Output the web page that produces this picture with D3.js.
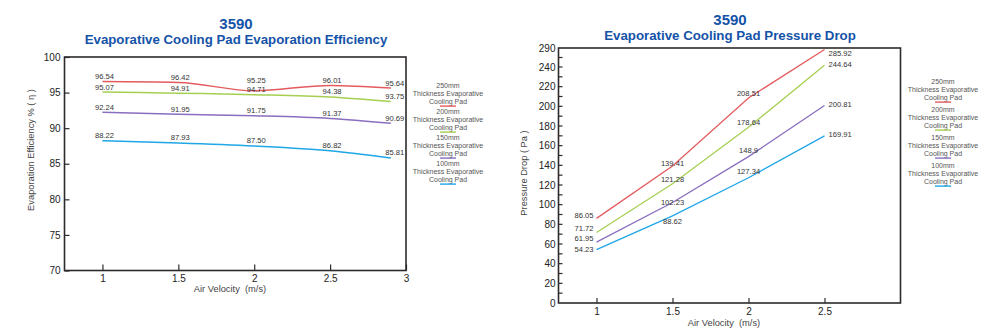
<!DOCTYPE html>
<html><head><meta charset="utf-8">
<script src="https://cdn.jsdelivr.net/npm/d3@7"></script>
<style>
html,body{margin:0;padding:0;background:#fff;}
svg{display:block;font-family:"Liberation Sans",Arial,sans-serif;}
</style></head>
<body><svg id="c" width="1000" height="336"></svg>
<script>
// ---------- data ----------
const seriesNames = ["250mm", "200mm", "150mm", "100mm"];
const legendSub = ["Thickness Evaporative", "Cooling Pad"];
const seriesColors = ["#e35b5e", "#a6cf52", "#8a6ebf", "#1fa7e8"];

// Evaporation efficiency chart
const effTitle = ["3590", "Evaporative Cooling Pad Evaporation Efficiency"];
const effX = [1, 1.5, 2, 2.5, 2.9];
const eff250 = [96.54, 96.42, 95.25, 96.01, 95.64];
const eff200 = [95.07, 94.91, 94.71, 94.38, 93.75];
const eff150 = [92.24, 91.95, 91.75, 91.37, 90.69];
const eff100 = [88.22, 87.93, 87.50, 86.82, 85.81];
const effXTicks = [1, 1.5, 2, 2.5, 3];
const effYTicks = [70, 75, 80, 85, 90, 95, 100];
const effYLabel = "Evaporation Efficiency  % ( η )";

// Pressure drop chart
const pdTitle = ["3590", "Evaporative Cooling Pad Pressure Drop"];
const pdX = [1, 1.5, 2, 2.5];
const pd250 = [86.05, 139.41, 208.51, 285.92];
const pd200 = [71.72, 121.28, 178.64, 244.64];
const pd150 = [61.95, 102.23, 148.9, 200.81];
const pd100 = [54.23, 88.62, 127.34, 169.91];
const pdXTicks = [1, 1.5, 2, 2.5];
const pdYTicks = [0, 20, 40, 60, 80, 100, 120, 140, 160, 180, 200, 220, 240, 290];
const pdYMinor = [10, 30, 50, 70, 90, 110, 130, 150, 170, 190, 210, 230, 265];
const pdYLabel = "Pressure Drop ( Pa )";
const xLabel = "Air Velocity\u00a0 (m/s)";

// ---------- layout ----------
const svg = d3.select("#c");
const titleColor = "#1553a8";
const frameColor = "#2e2a2a";
const titleFont = "'Liberation Sans',Arial,sans-serif";

function title(lines, cx, y0, y1, w2) {
  svg.append("text").attr("x", cx).attr("y", y0).attr("text-anchor", "middle")
    .attr("font-family", titleFont).attr("font-weight", "bold")
    .attr("font-size", 15).attr("fill", titleColor).text(lines[0]);
  const t2 = svg.append("text").attr("x", cx).attr("y", y1).attr("text-anchor", "middle")
    .attr("font-family", titleFont).attr("font-weight", "bold")
    .attr("font-size", 14).attr("fill", titleColor).text(lines[1]);
  const w = t2.node().getComputedTextLength();
  t2.attr("font-size", 14 * w2 / w);
}

function legend(cx, y0, step) {
  const lh = 7.9;
  seriesNames.forEach((n, i) => {
    const g = svg.append("g").attr("transform", `translate(${cx},${y0 + i * step})`);
    [n, ...legendSub].forEach((s, j) => {
      g.append("text").attr("x", 0).attr("y", j * lh).attr("text-anchor", "middle")
        .attr("font-size", 7).attr("fill", "#555").text(s);
    });
    g.append("line").attr("x1", -8).attr("x2", 8).attr("y1", 2 * lh + 2.3).attr("y2", 2 * lh + 2.3)
      .attr("stroke", seriesColors[i]).attr("stroke-width", 1.4);
  });
}

function styleAxisText(g) {
  g.selectAll("text").attr("font-size", 10).attr("fill", "#222")
    .attr("font-family", "'Liberation Sans',Arial,sans-serif");
}

// ===== Left chart =====
{
  const x = d3.scaleLinear().domain([0.75, 3]).range([64.5, 406]);
  const y = d3.scaleLinear().domain([70, 100]).range([270.5, 57]);
  const data = [eff250, eff200, eff150, eff100];

  title(effTitle, 236, 29, 43.5, 303);

  svg.append("rect").attr("x", x.range()[0]).attr("y", y(100))
    .attr("width", x.range()[1] - x.range()[0]).attr("height", y(70) - y(100))
    .attr("fill", "none").attr("stroke", frameColor).attr("stroke-width", 1.6);

  const ya = svg.append("g").attr("transform", `translate(${x.range()[0]},0)`)
    .call(d3.axisLeft(y).tickValues(effYTicks).tickSize(-5).tickPadding(4).tickFormat(d3.format("d")));
  ya.select(".domain").remove();
  ya.selectAll("line").attr("stroke", frameColor).attr("stroke-width", 1.2);
  styleAxisText(ya);

  const xa = svg.append("g").attr("transform", `translate(0,${y(70)})`)
    .call(d3.axisBottom(x).tickValues(effXTicks).tickSize(-6).tickPadding(4).tickFormat(d => String(d)));
  xa.select(".domain").remove();
  xa.selectAll("line").attr("stroke", frameColor).attr("stroke-width", 1.2);
  styleAxisText(xa);

  svg.append("text").attr("x", 230).attr("y", 292).attr("text-anchor", "middle")
    .attr("font-size", 9.3).attr("fill", "#444").text(xLabel);
  svg.append("text").attr("transform", "translate(34,150) rotate(-90)").attr("text-anchor", "middle")
    .attr("font-size", 9.3).attr("fill", "#444").text(effYLabel);

  const line = d3.line().x((d, i) => x(effX[i])).y(d => y(d)).curve(d3.curveMonotoneX);
  data.forEach((s, k) => {
    svg.append("path").attr("d", line(s)).attr("fill", "none")
      .attr("stroke", seriesColors[k]).attr("stroke-width", 1.5);
  });

  // value labels: above each point, stacked so they never collide
  effX.forEach((xv, i) => {
    let below = Infinity;
    for (let k = data.length - 1; k >= 0; k--) {
      const ly = Math.min(y(data[k][i]) - 2.5, below - 9.5);
      below = ly;
      svg.append("text")
        .attr("x", x(xv) + (i === effX.length - 1 ? 4 : 2))
        .attr("y", ly)
        .attr("text-anchor", "middle").attr("font-size", 7.6).attr("fill", "#333")
        .text(data[k][i].toFixed(2));
    }
  });

  legend(448, 88, 26);
}

// ===== Right chart =====
{
  const x = d3.scaleLinear().domain([0.75, 3]).range([558.5, 900.5]);
  const y = d3.scaleLinear().domain([0, 240, 290]).range([303, 67, 48]);
  const data = [pd250, pd200, pd150, pd100];
  // label centre offsets (px) relative to each point, per series
  const labelDy = [[-3, -3, -5, 4], [-4, -4, -5, -1.4], [-3.4, 0, -6.6, -1.3], [-0.4, 5.4, -6, -2]];

  title(pdTitle, 730, 25, 39.5, 252);

  svg.append("rect").attr("x", x.range()[0]).attr("y", y(290))
    .attr("width", x.range()[1] - x.range()[0]).attr("height", y(0) - y(290))
    .attr("fill", "none").attr("stroke", frameColor).attr("stroke-width", 1.6);

  const ya = svg.append("g").attr("transform", `translate(${x.range()[0]},0)`)
    .call(d3.axisLeft(y).tickValues(pdYTicks).tickSize(0).tickPadding(3).tickFormat(d3.format("d")));
  ya.select(".domain").remove();
  styleAxisText(ya);
  svg.append("g").selectAll("line").data(pdYTicks.filter(d => d > 0 && d < 290).concat(pdYMinor)).join("line")
    .attr("x1", x.range()[0]).attr("x2", x.range()[0] + 4)
    .attr("y1", d => y(d)).attr("y2", d => y(d))
    .attr("stroke", frameColor).attr("stroke-width", 1.2);

  const xa = svg.append("g").attr("transform", `translate(0,${y(0)})`)
    .call(d3.axisBottom(x).tickValues(pdXTicks).tickSize(-5).tickPadding(5).tickFormat(d => String(d)));
  xa.select(".domain").remove();
  xa.selectAll("line").attr("stroke", frameColor).attr("stroke-width", 1.2);
  styleAxisText(xa);

  svg.append("text").attr("x", 724).attr("y", 326).attr("text-anchor", "middle")
    .attr("font-size", 9.3).attr("fill", "#444").text(xLabel);
  svg.append("text").attr("transform", "translate(527,173) rotate(-90)").attr("text-anchor", "middle")
    .attr("font-size", 9.3).attr("fill", "#444").text(pdYLabel);

  const line = d3.line().x((d, i) => x(pdX[i])).y(d => y(d));
  data.forEach((s, k) => {
    svg.append("path").attr("d", line(s)).attr("fill", "none")
      .attr("stroke", seriesColors[k]).attr("stroke-width", 1.3);
    svg.append("g").selectAll("text").data(s).join("text")
      .attr("x", (d, i) => x(pdX[i]) + (i === 0 ? -3 : i === s.length - 1 ? 4 : 0))
      .attr("y", (d, i) => y(d) + labelDy[k][i] + 2.7)
      .attr("text-anchor", (d, i) => i === 0 ? "end" : i === s.length - 1 ? "start" : "middle")
      .attr("font-size", 7.6).attr("fill", "#333")
      .text(d => String(d));
  });

  legend(943, 84, 28);
}
</script></body></html>
